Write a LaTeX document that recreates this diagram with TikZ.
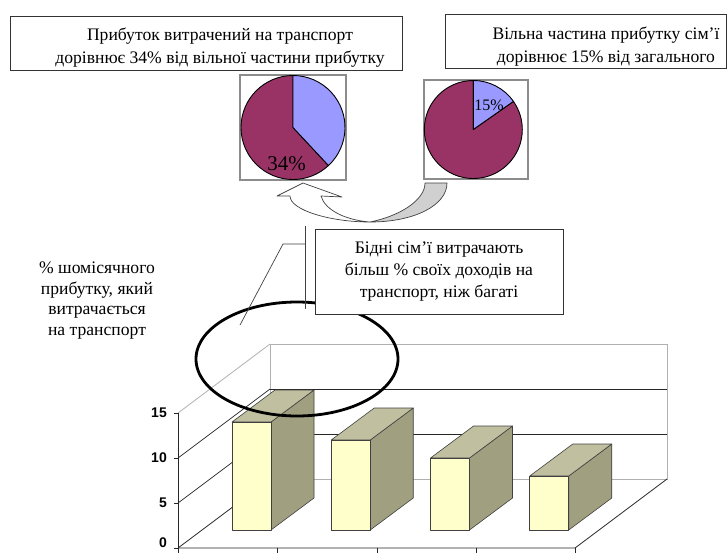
\documentclass[tikz,border=0pt]{standalone}
\usepackage{fontspec}
\setmainfont{Liberation Serif}
\newfontfamily\arialfont{Liberation Sans}
\definecolor{pieblue}{HTML}{9999FF}
\definecolor{piepurple}{HTML}{993366}
\definecolor{barfrontc}{HTML}{FFFFCC}
\definecolor{bartopc}{HTML}{C0C0A0}
\definecolor{barsidec}{HTML}{A0A080}
\definecolor{wallgray}{HTML}{B0B0B0}
\definecolor{framegray}{HTML}{8C8C8C}
\definecolor{arrowgray}{HTML}{D0D0D0}
\begin{document}
\begin{tikzpicture}[x=1pt,y=1pt,
  txtbox/.style={draw=black!80,line width=0.8pt,fill=white,inner sep=0pt},
  serifbig/.style={font=\fontsize{17.6}{23}\selectfont,align=center,inner sep=0pt},
  wall/.style={draw=wallgray,line width=0.8pt},
  grid/.style={draw=black!85,line width=0.7pt},
  axisline/.style={draw=black!85,line width=0.8pt},
  ticklabel/.style={font=\arialfont\bfseries\fontsize{14}{14}\selectfont,anchor=east,inner sep=0pt},
  barface/.style={draw=black!75,line width=0.6pt,line join=round},
  pieframe/.style={draw=framegray,line width=1.2pt},
  pieslice/.style={draw=black,line width=0.9pt,line join=round},
  leader/.style={draw=black!75,line width=0.7pt}
]
\useasboundingbox (0,0) rectangle (727,-552);

% ---------- top boxes ----------
\node[txtbox,minimum width=392pt,minimum height=54pt] (boxA) at (206,-43) {};
\node[serifbig] (textA) at (220,-47.5)
  {Прибуток витрачений на транспорт\\дорівнює 34\% від вільної частини прибутку};
\node[txtbox,minimum width=281pt,minimum height=54pt] (boxB) at (585.5,-41) {};
\node[serifbig] (textB) at (606,-46.5)
  {Вільна частина прибутку сім’ї\\дорівнює 15\% від загального};

% ---------- pies ----------
\draw[pieframe] (240,-75) rectangle (346,-180);
\coordinate (pieAc) at (293,-127.5);
\filldraw[pieslice,fill=piepurple] (pieAc) -- ++(90:52) arc[start angle=90,end angle=313,radius=52] -- cycle;
\filldraw[pieslice,fill=pieblue] (pieAc) -- ++(-47:52) arc[start angle=-47,end angle=90,radius=52] -- cycle;
\node[font=\fontsize{21}{21}\selectfont,inner sep=0pt] (pctA) at (286.5,-164) {34\%};

\draw[pieframe] (424,-80) rectangle (528,-179);
\coordinate (pieBc) at (473.3,-129.5);
\filldraw[pieslice,fill=piepurple] (pieBc) -- ++(90:49) arc[start angle=90,end angle=395,radius=49] -- cycle;
\filldraw[pieslice,fill=pieblue] (pieBc) -- ++(35:49) arc[start angle=35,end angle=90,radius=49] -- cycle;
\node[font=\fontsize{16}{16}\selectfont,inner sep=0pt] (pctB) at (489,-105) {15\%};

% ---------- curved arrow ----------
\filldraw[draw=black!75,line width=0.7pt,fill=arrowgray,line join=round]
  (425,-183) -- (447,-183) .. controls (447,-205) and (415,-222) .. (370,-222)
  .. controls (400,-216) and (425,-200) .. (425,-183) -- cycle;
\filldraw[draw=black!75,line width=0.7pt,fill=white,line join=round]
  (370,-222) .. controls (330,-222) and (290,-210) .. (290,-196)
  -- (277,-196) -- (303,-183) -- (342,-197) -- (321,-196)
  .. controls (325,-210) and (345,-220) .. (370,-222) -- cycle;

% ---------- left text ----------
\node[font=\fontsize{17.6}{20.4}\selectfont,align=center,inner sep=0pt] (ylabel) at (97,-300.5)
  {\% шомісячного\\прибутку, який\\витрачається\\на транспорт};

% ---------- chart walls ----------
\draw[wall] (270,-479) -- (270,-344) -- (667,-344) -- (667,-479) -- (270,-479);
\draw[wall] (178,-413) -- (270,-344);
\draw[grid] (270,-434) -- (667,-434);
\draw[grid] (270,-389) -- (667,-389);
\draw[grid] (178,-503) -- (270,-434);
\draw[grid] (178,-458) -- (270,-389);
\draw[axisline] (178,-548) -- (270,-479);
\draw[axisline] (178,-548) -- (575,-548) -- (667,-479);
\draw[axisline] (178,-413) -- (178,-548);
\foreach \yy/\lab in {413/15,458/10,503/5,543/0}{
  \node[ticklabel] (tick\lab) at (167,-\yy) {\lab};
}
\foreach \yy in {413,458,503,548}{
  \draw[axisline] (174,-\yy) -- (178,-\yy);
}
\foreach \xx in {178,277,377,476,575}{
  \draw[axisline] (\xx,-548) -- (\xx,-554);
}

% ---------- bars ----------
\foreach \i/\v in {0/12,1/10,2/8,3/6}{
  \pgfmathsetmacro\xa{232+99.25*\i}
  \pgfmathsetmacro\yt{-530+9*\v}
  \filldraw[barface,fill=barsidec] (\xa+39,-530) -- (\xa+39,\yt) -- (\xa+82,\yt+32) -- (\xa+82,-498) -- cycle;
  \filldraw[barface,fill=bartopc] (\xa,\yt) -- (\xa+39,\yt) -- (\xa+82,\yt+32) -- (\xa+43,\yt+32) -- cycle;
  \filldraw[barface,fill=barfrontc] (\xa,-530) rectangle (\xa+39,\yt);
}

% ---------- ellipse ----------
\draw[black,line width=2.8pt] (297,-359) ellipse[x radius=101,y radius=57];

% ---------- callout ----------
\coordinate (leadTop) at (305,-226);
\coordinate (leadBot) at (305,-309);
\coordinate (leadKnee) at (283,-244);
\coordinate (leadEnd) at (240,-325);
\draw[leader] (leadTop) -- (leadBot);
\draw[leader] (305,-244) -- (leadKnee) -- (leadEnd);
\node[txtbox,minimum width=248pt,minimum height=85pt,
      font=\fontsize{17.6}{21.7}\selectfont,align=center] (callout) at (439,-271.5)
  {Бідні сім’ї витрачають\\більш \% своїх доходів на\\транспорт, ніж багаті};
\end{tikzpicture}
\end{document}
